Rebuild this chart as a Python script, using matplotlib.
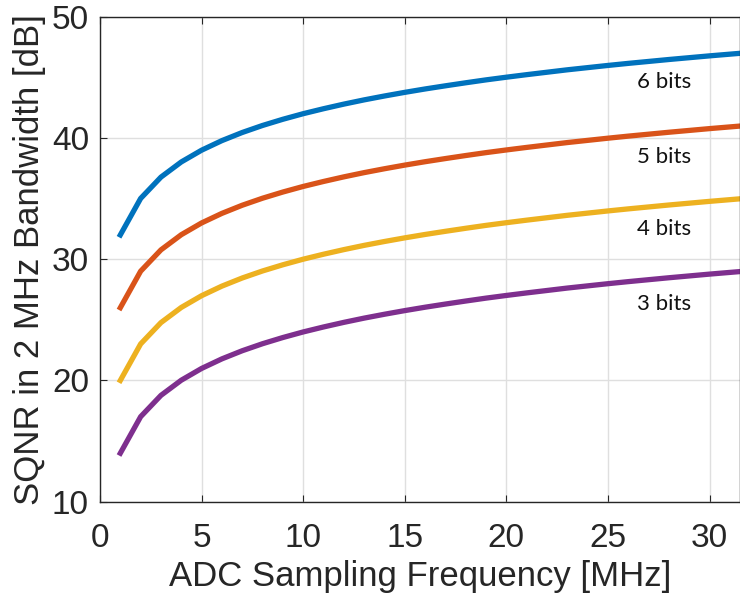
import numpy as np
import matplotlib.pyplot as plt

# sampling frequency [MHz]
fs = np.arange(1, 33)

# SQNR in 2 MHz bandwidth [dB]
sqnr_6 = [32.00, 35.01, 36.77, 38.02, 38.99, 39.78, 40.45, 41.03, 41.54, 42.00,
          42.41, 42.79, 43.14, 43.46, 43.76, 44.04, 44.30, 44.55, 44.79, 45.01,
          45.22, 45.42, 45.62, 45.80, 45.98, 46.15, 46.31, 46.47, 46.62, 46.77,
          46.91, 47.05]
sqnr_5 = [26.00, 29.01, 30.77, 32.02, 32.99, 33.78, 34.45, 35.03, 35.54, 36.00,
          36.41, 36.79, 37.14, 37.46, 37.76, 38.04, 38.30, 38.55, 38.79, 39.01,
          39.22, 39.42, 39.62, 39.80, 39.98, 40.15, 40.31, 40.47, 40.62, 40.77,
          40.91, 41.05]
sqnr_4 = [20.00, 23.01, 24.77, 26.02, 26.99, 27.78, 28.45, 29.03, 29.54, 30.00,
          30.41, 30.79, 31.14, 31.46, 31.76, 32.04, 32.30, 32.55, 32.79, 33.01,
          33.22, 33.42, 33.62, 33.80, 33.98, 34.15, 34.31, 34.47, 34.62, 34.77,
          34.91, 35.05]
sqnr_3 = [14.00, 17.01, 18.77, 20.02, 20.99, 21.78, 22.45, 23.03, 23.54, 24.00,
          24.41, 24.79, 25.14, 25.46, 25.76, 26.04, 26.30, 26.55, 26.79, 27.01,
          27.22, 27.42, 27.62, 27.80, 27.98, 28.15, 28.31, 28.47, 28.62, 28.77,
          28.91, 29.05]

labels = ["6 bits", "5 bits", "4 bits", "3 bits"]
label_y = [44.6, 38.4, 32.5, 26.3]
colors = ["#0072BD", "#D95319", "#EDB120", "#7E2F8E"]

plt.rcParams['font.family'] = ['Liberation Sans', 'DejaVu Sans']

fig = plt.figure(figsize=(7.4, 5.99), dpi=100)
ax = fig.add_axes([100/740, (599-501.7)/599, 1 - 100/740, (501.7-16.7)/599])

for ys, c in zip([sqnr_6, sqnr_5, sqnr_4, sqnr_3], colors):
    ax.plot(fs, ys, color=c, lw=3.8)

for lab, y in zip(labels, label_y):
    ax.text(27.75, y, lab, ha='center', va='center', fontsize=16,
            family=['Lato', 'DejaVu Sans'], color='#111111')

ax.set_xlim(0, 31.5)
ax.set_ylim(10, 50)
ax.set_xticks([0, 5, 10, 15, 20, 25, 30])
ax.set_yticks([10, 20, 30, 40, 50])
ax.grid(True, color='#dfdfdf', lw=1)
ax.set_axisbelow(True)
for s in ax.spines.values():
    s.set_color('#262626')
    s.set_linewidth(1)
ax.tick_params(direction='in', length=5, top=True, right=False,
               labelsize=24, colors='#262626')
ax.tick_params(axis='x', pad=15)
ax.tick_params(axis='y', pad=8)
ax.set_xlabel("ADC Sampling Frequency [MHz]", fontsize=25, color='#262626',
              labelpad=5)
ax.set_ylabel("SQNR in 2 MHz Bandwidth [dB]", fontsize=25, color='#262626',
              labelpad=4)

fig.savefig("out.png", dpi=100)
